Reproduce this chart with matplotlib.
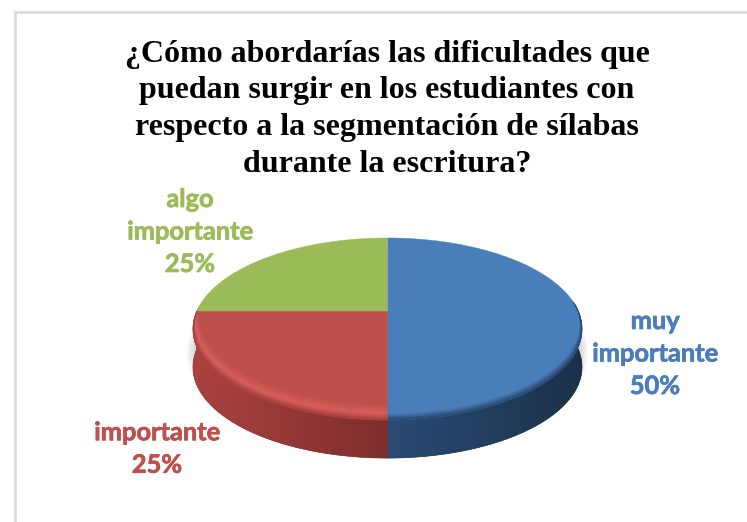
import numpy as np
import matplotlib
matplotlib.use('Agg')
import matplotlib.pyplot as plt
import matplotlib.patheffects as pe
from matplotlib.colors import LinearSegmentedColormap, to_rgb
from matplotlib.patches import Polygon, Ellipse

title_lines = ['¿Cómo abordarías las dificultades que',
               'puedan surgir en los estudiantes con',
               'respecto a la segmentación de sílabas',
               'durante la escritura?']
categories = ['muy\nimportante', 'importante', 'algo\nimportante']
values = [50, 25, 25]
colors = ['#4A7EBB', '#BE4F4C', '#9BBB59']
side_left = ['#2A4B74', '#AC423F', '#7A9440']
side_right = ['#1B3149', '#7C2E2C', '#7A9440']
rim_light = ['#4A7EBB', '#D65F5B', '#9BBB59']
rim_dark = ['#2A4A70', '#A8403D', '#7A9440']

# pixel geometry of the pie
cx, cy = 387.5, 311
k, A, B = 0.198, 190.7, 87.5
depth = 38


def project(theta):
    # tilted disc, theta in radians counted clockwise from the top
    x, y = np.sin(theta), np.cos(theta)
    d = 1 + k * y
    return cx + A * x / d, cy - B * y / d


fig = plt.figure(figsize=(7.47, 5.22), dpi=100, facecolor='white')
ax = fig.add_axes([0, 0, 1, 1])
ax.set_xlim(0, 747)
ax.set_ylim(522, 0)
ax.axis('off')

# frame
ax.plot([14.5, 14.5, 747], [522, 12, 12], color='#D9D9D9', lw=1.8, solid_joinstyle='miter')

# soft shadow
for i in range(10):
    ax.add_patch(Ellipse((cx, 348 + 0.7 * i), 2 * (193 + i * 0.9), 2 * (92 + i * 0.8),
                         fc='#000000', ec='none', alpha=0.016, zorder=1))

fracs = np.array(values) / sum(values)
edges = np.concatenate([[0], np.cumsum(fracs)]) * 2 * np.pi

# side wall, only the part facing the viewer
for i in range(len(values)):
    t0, t1 = max(edges[i], np.pi / 2 - 0.1), min(edges[i + 1], 3 * np.pi / 2)
    if t1 <= t0:
        continue
    t = np.linspace(t0, t1, 200)
    x, y = project(t)
    pts = np.column_stack([np.r_[x, x[::-1]], np.r_[y, y[::-1] + depth]])
    poly = Polygon(pts, fc=side_right[i], ec=side_right[i], lw=0.4, zorder=2)
    ax.add_patch(poly)
    cmap = LinearSegmentedColormap.from_list('s', [side_left[i], side_right[i]])
    im = ax.imshow(np.linspace(0, 1, 256)[None, :], cmap=cmap, aspect='auto',
                   extent=(x.min(), x.max(), y.max() + depth + 1, y.min() - 1), zorder=2)
    im.set_clip_path(poly)
ax.set_xlim(0, 747)
ax.set_ylim(522, 0)

# top faces
for i in range(len(values)):
    t = np.linspace(edges[i], edges[i + 1], 200)
    x, y = project(t)
    pts = np.column_stack([np.r_[cx, x], np.r_[cy, y]])
    face = Polygon(pts, fc=colors[i], ec=colors[i], lw=0.3, zorder=3)
    ax.add_patch(face)

    # bevel along the front edge only
    front = (t > np.pi / 2 - 0.1) & (t < 3 * np.pi / 2 + 0.01)
    if front.sum() < 2:
        continue
    base = np.array(to_rgb(colors[i]))
    light = np.array(to_rgb(rim_light[i]))
    dark = np.array(to_rgb(rim_dark[i]))
    for d in np.arange(16, -0.1, -0.5):
        f = d / 16
        if f > 0.4:
            col = light + (base - light) * (f - 0.4) / 0.6
        else:
            col = dark + (light - dark) * f / 0.4
        shrink = 1 - 0.0016 * d
        line, = ax.plot(cx + (x[front] - cx) * shrink, y[front] - d, color=col, lw=1.0, zorder=4,
                        solid_capstyle='butt')
        line.set_clip_path(face)

# title
for line, ty in zip(title_lines, [62, 98, 135, 172]):
    ax.text(387, ty, line, family='Liberation Serif', weight='bold', fontsize=23,
            color='black', ha='center', va='baseline', zorder=6)

# data labels
label_pos = [(655, 354), (157, 449), (190, 232)]
for name, v, col, (lx, ly) in zip(categories, values, colors, label_pos):
    ax.text(lx, ly, f'{name}\n{v}%', family='Lato', weight='bold', fontsize=18.3, color=col,
            ha='center', va='center', linespacing=1.5, zorder=6,
            path_effects=[pe.withStroke(linewidth=0.5, foreground=col)])

fig.savefig('out.png', dpi=100)
